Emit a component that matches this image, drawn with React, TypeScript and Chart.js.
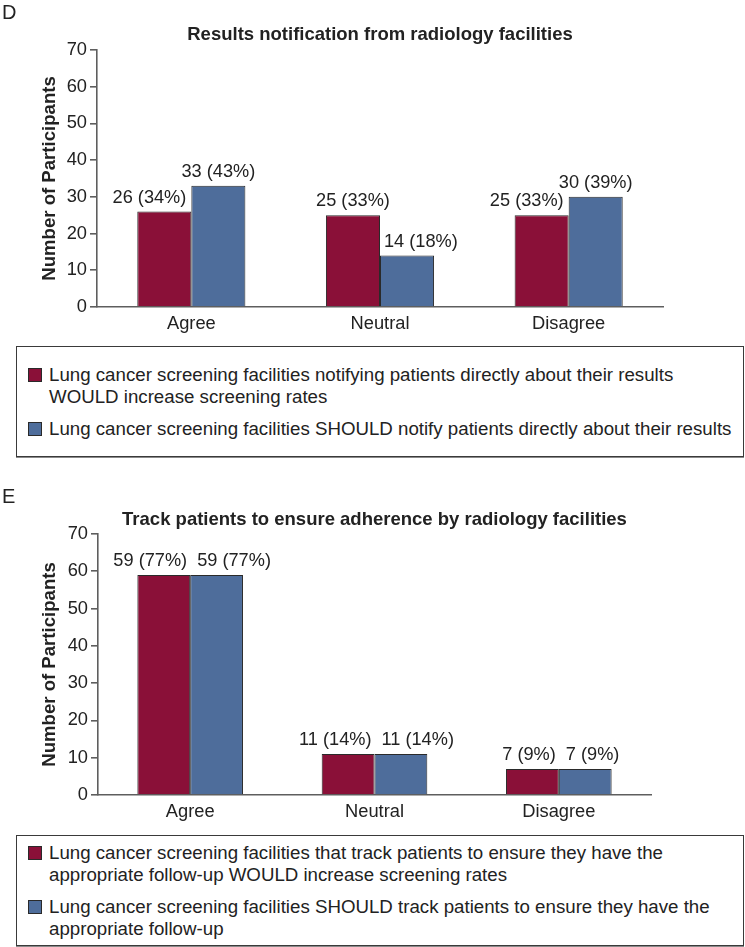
import React, { useEffect, useRef } from 'react';
import { Chart, registerables } from 'chart.js';

Chart.register(...registerables);

// ---------- data ----------
const categories = ['Agree', 'Neutral', 'Disagree'];
const yAxisTitle = 'Number of Participants';
const yMin = 0;
const yMax = 70;
const yStep = 10;

const panelDLetter = 'D';
const panelDTitle = 'Results notification from radiology facilities';
const panelDWould = [26, 25, 25];
const panelDWouldPct = [34, 33, 33];
const panelDShould = [33, 14, 30];
const panelDShouldPct = [43, 18, 39];
const panelDLegend = [
  'Lung cancer screening facilities notifying patients directly about their results WOULD increase screening rates',
  'Lung cancer screening facilities SHOULD notify patients directly about their results',
];

const panelELetter = 'E';
const panelETitle = 'Track patients to ensure adherence by radiology facilities';
const panelEWould = [59, 11, 7];
const panelEWouldPct = [77, 14, 9];
const panelEShould = [59, 11, 7];
const panelEShouldPct = [77, 14, 9];
const panelELegend = [
  'Lung cancer screening facilities that track patients to ensure they have the appropriate follow-up WOULD increase screening rates',
  'Lung cancer screening facilities SHOULD track patients to ensure they have the appropriate follow-up',
];

// ---------- styles ----------
const RED = '#8a1038';
const BLUE = '#4e6d9b';
const BAR_BORDER = '#2a2a2a';
const AXIS = '#5e5e5e';
const TEXT = '#222222';
const FAMILY = "'Liberation Sans', Arial, Helvetica, sans-serif";
const W = 745;

type PanelProps = {
  letter: string;
  title: string;
  would: number[];
  wouldPct: number[];
  should: number[];
  shouldPct: number[];
  legend: string[];
  top: number;
  height: number;
  plotTop: number;
  plotBottom: number;
  plotLeft: number;
  plotRight: number;
  letterBaseline: number;
  titleBaseline: number;
};

function BarPanel(p: PanelProps) {
  const ref = useRef<HTMLCanvasElement | null>(null);

  useEffect(() => {
    const canvas = ref.current;
    if (!canvas) return;
    const pcts = [p.wouldPct, p.shouldPct];

    const annotate = {
      id: 'annotate',
      afterDraw(chart: any) {
        const ctx = chart.ctx as CanvasRenderingContext2D;
        const area = chart.chartArea;
        ctx.save();
        ctx.fillStyle = TEXT;
        // panel letter
        ctx.font = `20px ${FAMILY}`;
        ctx.textAlign = 'left';
        ctx.textBaseline = 'alphabetic';
        ctx.fillText(p.letter, 2, p.letterBaseline);
        // title
        ctx.font = `bold 18.5px ${FAMILY}`;
        ctx.textAlign = 'center';
        ctx.fillText(p.title, (area.left + area.right) / 2, p.titleBaseline);
        // y axis title
        ctx.save();
        ctx.translate(55, (area.top + area.bottom) / 2);
        ctx.rotate(-Math.PI / 2);
        ctx.font = `bold 18.6px ${FAMILY}`;
        ctx.textAlign = 'center';
        ctx.textBaseline = 'alphabetic';
        ctx.fillText(yAxisTitle, 0, 0);
        ctx.restore();

        // value labels
        ctx.font = `18.2px ${FAMILY}`;
        ctx.textAlign = 'left';
        ctx.textBaseline = 'alphabetic';
        const metaA = chart.getDatasetMeta(0);
        const metaB = chart.getDatasetMeta(1);
        for (let i = 0; i < categories.length; i++) {
          const a = metaA.data[i];
          const b = metaB.data[i];
          const ta = `${chart.data.datasets[0].data[i]} (${pcts[0][i]}%)`;
          const tb = `${chart.data.datasets[1].data[i]} (${pcts[1][i]}%)`;
          const wa = ctx.measureText(ta).width;
          const wb = ctx.measureText(tb).width;
          const boundary = a.x + a.width / 2;
          let la = a.x - wa / 2;
          let lb = b.x - wb / 2;
          const baseA = a.y - 9;
          const baseB = b.y - 9;
          // keep clear of the neighbouring taller bar
          if (baseA + 4 > b.y && la + wa > boundary - 5) la = boundary - 5 - wa;
          if (baseB + 4 > a.y && lb < boundary + 4) lb = boundary + 4;
          // keep labels clear of each other
          const vOverlap = Math.abs(baseA - baseB) < 18;
          if (vOverlap && la + wa + 6 > lb) {
            la = boundary - 3 - wa;
            lb = boundary + 7;
          }
          ctx.fillText(ta, la, baseA);
          ctx.fillText(tb, lb, baseB);
        }
        ctx.restore();
      },
    };

    const chart = new Chart(canvas, {
      type: 'bar',
      data: {
        labels: categories,
        datasets: [
          {
            label: p.legend[0],
            data: p.would,
            backgroundColor: RED,
            borderColor: BAR_BORDER,
            borderWidth: 1,
            categoryPercentage: 0.573,
            barPercentage: 1,
          },
          {
            label: p.legend[1],
            data: p.should,
            backgroundColor: BLUE,
            borderColor: BAR_BORDER,
            borderWidth: 1,
            categoryPercentage: 0.573,
            barPercentage: 1,
          },
        ],
      },
      options: {
        animation: false,
        responsive: false,
        maintainAspectRatio: false,
        events: [],
        layout: {
          padding: { left: 0, right: W - p.plotRight, top: p.plotTop, bottom: 0 },
        },
        plugins: {
          legend: { display: false },
          title: { display: false },
          tooltip: { enabled: false },
        },
        scales: {
          x: {
            grid: { display: false, drawTicks: false },
            border: { display: true, color: AXIS, width: 1.6 },
            ticks: { color: TEXT, font: { family: FAMILY, size: 18.3 }, padding: 6 },
            afterFit: (s: any) => {
              s.height = p.height - p.plotBottom;
            },
          },
          y: {
            min: yMin,
            max: yMax,
            ticks: { stepSize: yStep, color: TEXT, font: { family: FAMILY, size: 18.3 }, padding: 3 },
            grid: { drawOnChartArea: false, tickLength: 7, color: AXIS, lineWidth: 1.6 },
            border: { display: true, color: AXIS, width: 1.6 },
            afterFit: (s: any) => {
              s.width = p.plotLeft;
            },
          },
        },
      } as any,
      plugins: [annotate],
    });
    return () => chart.destroy();
  }, []);

  return (
    <canvas
      ref={ref}
      width={W}
      height={p.height}
      style={{ position: 'absolute', left: 0, top: p.top, width: W, height: p.height }}
    />
  );
}

function LegendBox({ items, top }: { items: string[]; top: number }) {
  const colors = [RED, BLUE];
  return (
    <div
      style={{
        position: 'absolute',
        left: 16,
        top,
        width: 728,
        height: 111,
        boxSizing: 'border-box',
        border: '1px solid #3a3a3a',
        boxShadow: '0 1px 0 #8a8a8a',
        display: 'flex',
        flexDirection: 'column',
        justifyContent: 'center',
        paddingLeft: 11,
        paddingRight: 4,
        fontFamily: FAMILY,
        fontSize: 18.7,
        lineHeight: '22px',
        color: TEXT,
      }}
    >
      {items.map((t, i) => (
        <div key={i} style={{ display: 'flex', alignItems: 'flex-start', marginTop: i === 0 ? 0 : 10 }}>
          <span
            style={{
              flex: '0 0 auto',
              width: 14,
              height: 14,
              boxSizing: 'border-box',
              border: '1px solid #2a2a2a',
              background: colors[i],
              marginTop: 4,
              marginRight: 7,
            }}
          />
          <span>{t}</span>
        </div>
      ))}
    </div>
  );
}

export default function App() {
  return (
    <div style={{ position: 'absolute', left: 0, top: 0, width: W, height: 947, background: '#fff', overflow: 'hidden' }}>
      <BarPanel
        letter={panelDLetter}
        title={panelDTitle}
        would={panelDWould}
        wouldPct={panelDWouldPct}
        should={panelDShould}
        shouldPct={panelDShouldPct}
        legend={panelDLegend}
        top={0}
        height={340}
        plotTop={50}
        plotBottom={307}
        plotLeft={97}
        plotRight={663}
        letterBaseline={19}
        titleBaseline={40}
      />
      <LegendBox items={panelDLegend} top={346} />
      <BarPanel
        letter={panelELetter}
        title={panelETitle}
        would={panelEWould}
        wouldPct={panelEWouldPct}
        should={panelEShould}
        shouldPct={panelEShouldPct}
        legend={panelELegend}
        top={470}
        height={360}
        plotTop={64}
        plotBottom={325}
        plotLeft={98}
        plotRight={651}
        letterBaseline={33}
        titleBaseline={55}
      />
      <LegendBox items={panelELegend} top={835} />
    </div>
  );
}
